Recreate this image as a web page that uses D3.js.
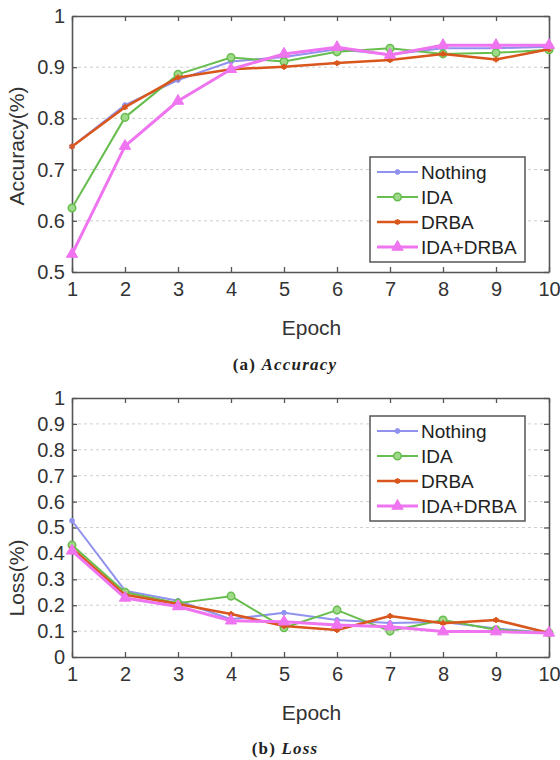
<!DOCTYPE html>
<html>
<head>
<meta charset="utf-8">
<script src="https://cdn.jsdelivr.net/npm/d3@7"></script>
<style>
  body { margin: 0; background: #fff; }
  svg { display: block; }
</style>
</head>
<body>
<svg id="chart" width="560" height="760"></svg>
<script>
// epochs + series
const epochs = [1, 2, 3, 4, 5, 6, 7, 8, 9, 10]
const seriesNames = ['Nothing', 'IDA', 'DRBA', 'IDA+DRBA']

const accNothing = [0.745, 0.826, 0.875, 0.911, 0.920, 0.935, 0.925, 0.937, 0.937, 0.940]
const accIDA     = [0.625, 0.802, 0.886, 0.919, 0.911, 0.930, 0.937, 0.926, 0.928, 0.934]
const accDRBA    = [0.745, 0.822, 0.880, 0.896, 0.901, 0.908, 0.914, 0.926, 0.915, 0.935]
const accBoth    = [0.535, 0.746, 0.834, 0.896, 0.926, 0.939, 0.924, 0.943, 0.943, 0.943]

const lossNothing = [0.526, 0.256, 0.217, 0.146, 0.171, 0.143, 0.131, 0.135, 0.110, 0.093]
const lossIDA     = [0.432, 0.250, 0.208, 0.235, 0.113, 0.181, 0.100, 0.143, 0.105, 0.093]
const lossDRBA    = [0.420, 0.240, 0.205, 0.166, 0.120, 0.104, 0.158, 0.130, 0.143, 0.093]
const lossBoth    = [0.410, 0.228, 0.195, 0.140, 0.136, 0.124, 0.117, 0.098, 0.098, 0.093]

const accTicks = [0.5, 0.6, 0.7, 0.8, 0.9, 1]
const lossTicks = [0, 0.1, 0.2, 0.3, 0.4, 0.5, 0.6, 0.7, 0.8, 0.9, 1]

const colors = ['#9191ee', '#67bd4e', '#d9561c', '#ef74ef']
const widths = [2, 2, 2.5, 3]

const svg = d3.select('#chart')

function drawPanel(opts){
    const left = 72, right = 549
    const {top, bottom, yDomain, yTicks, yLabel, yLabelY, series, legendTop, caption, captionY} = opts

    const x = d3.scaleLinear().domain([1, 10]).range([left, right])
    const y = d3.scaleLinear().domain(yDomain).range([bottom, top])

    const g = svg.append('g')

    // dashed grid
    g.selectAll('.grid')
        .data(yTicks.filter(t => t > yDomain[0] && t < yDomain[1]))
        .enter()
        .append('line')
        .attr('x1', left).attr('x2', right)
        .attr('y1', d => y(d)).attr('y2', d => y(d))
        .attr('stroke', '#cfcfcf')
        .attr('stroke-width', 1)
        .attr('stroke-dasharray', '3,3')

    const axisStyle = sel => {
        sel.select('.domain').attr('stroke', '#555').attr('stroke-width', 1.6)
        sel.selectAll('.tick line').attr('stroke', '#555').attr('stroke-width', 1.3)
        sel.selectAll('text').attr('fill', '#333').attr('font-size', 20)
            .attr('font-family', 'Liberation Sans, Arial, sans-serif')
    }

    g.append('g')
        .attr('transform', `translate(0, ${bottom})`)
        .call(d3.axisBottom(x).tickValues(epochs).tickSize(-5).tickSizeOuter(0).tickPadding(10).tickFormat(d3.format('d')))
        .call(axisStyle)
    g.append('g')
        .attr('transform', `translate(0, ${top})`)
        .call(d3.axisTop(x).tickValues(epochs).tickSize(-5).tickSizeOuter(0).tickFormat(''))
        .call(axisStyle)
    g.append('g')
        .attr('transform', `translate(${left}, 0)`)
        .call(d3.axisLeft(y).tickValues(yTicks).tickSize(-5).tickSizeOuter(0).tickPadding(7).tickFormat(d => d === 0 || d === 1 ? d3.format('d')(d) : d3.format('.1f')(d)))
        .call(axisStyle)
    g.append('g')
        .attr('transform', `translate(${right}, 0)`)
        .call(d3.axisRight(y).tickValues(yTicks).tickSize(-5).tickSizeOuter(0).tickFormat(''))
        .call(axisStyle)

    // lines + markers
    const line = d3.line().x((d, i) => x(epochs[i])).y(d => y(d))
    series.forEach((vals, k) => {
        g.append('path')
            .datum(vals)
            .attr('d', line)
            .attr('fill', 'none')
            .attr('stroke', colors[k])
            .attr('stroke-width', widths[k])
            .attr('stroke-linejoin', 'round')
        g.selectAll('.m' + k)
            .data(vals)
            .enter()
            .append('path')
            .attr('transform', (d, i) => `translate(${x(epochs[i])}, ${y(d)})`)
            .call(s => marker(s, k))
    })

    // legend
    const lx = 370, lw = 155, lh = 105
    const lg = g.append('g')
    lg.append('rect')
        .attr('x', lx).attr('y', legendTop)
        .attr('width', lw).attr('height', lh)
        .attr('fill', '#fff')
        .attr('stroke', '#555')
        .attr('stroke-width', 1.5)
    seriesNames.forEach((name, k) => {
        const ly = legendTop + 15 + k * 25
        lg.append('line')
            .attr('x1', lx + 7).attr('x2', lx + 48)
            .attr('y1', ly).attr('y2', ly)
            .attr('stroke', colors[k])
            .attr('stroke-width', widths[k])
        lg.append('path')
            .attr('transform', `translate(${lx + 27.5}, ${ly})`)
            .call(s => marker(s, k))
        lg.append('text')
            .attr('x', lx + 51).attr('y', ly)
            .attr('dy', '0.36em')
            .attr('font-size', 19)
            .attr('font-family', 'Liberation Sans, Arial, sans-serif')
            .attr('fill', '#222')
            .text(name)
    })

    // axis titles
    g.append('text')
        .attr('x', (left + right) / 2 + 1).attr('y', bottom + 63)
        .attr('text-anchor', 'middle')
        .attr('font-size', 21)
        .attr('font-family', 'Liberation Sans, Arial, sans-serif')
        .attr('fill', '#333')
        .text('Epoch')
    g.append('text')
        .attr('transform', `translate(24, ${yLabelY}) rotate(-90)`)
        .attr('text-anchor', 'middle')
        .attr('font-size', 21)
        .attr('font-family', 'Liberation Sans, Arial, sans-serif')
        .attr('fill', '#333')
        .text(yLabel)

    const cap = g.append('text')
        .attr('x', 285).attr('y', captionY)
        .attr('text-anchor', 'middle')
        .attr('font-size', 17)
        .attr('letter-spacing', 1.2)
        .attr('font-family', 'Liberation Serif, Times New Roman, serif')
        .attr('fill', '#222')
    cap.append('tspan').attr('font-weight', 'bold').text(caption[0] + ' ')
    cap.append('tspan').attr('font-style', 'italic').attr('font-weight', 'bold').text(caption[1])
}

function marker(sel, k){
    if(k === 0){
        sel.attr('d', d3.symbol(d3.symbolCircle, 18)())
            .attr('fill', colors[0]).attr('stroke', colors[0]).attr('stroke-width', 1)
    } else if(k === 1){
        sel.attr('d', d3.symbol(d3.symbolCircle, 45)())
            .attr('fill', '#9fd98a').attr('stroke', colors[1]).attr('stroke-width', 1.5)
    } else if(k === 2){
        sel.attr('d', d3.symbol(d3.symbolAsterisk, 24)())
            .attr('fill', 'none').attr('stroke', colors[2]).attr('stroke-width', 1.8)
    } else {
        sel.attr('d', d3.symbol(d3.symbolTriangle, 55)())
            .attr('fill', colors[3]).attr('stroke', colors[3]).attr('stroke-width', 1)
    }
}

drawPanel({
    top: 16, bottom: 272,
    yDomain: [0.5, 1], yTicks: accTicks,
    yLabel: 'Accuracy(%)', yLabelY: 146,
    series: [accNothing, accIDA, accDRBA, accBoth],
    legendTop: 157,
    caption: ['(a)', 'Accuracy'], captionY: 370
})

drawPanel({
    top: 398, bottom: 657,
    yDomain: [0, 1], yTicks: lossTicks,
    yLabel: 'Loss(%)', yLabelY: 578,
    series: [lossNothing, lossIDA, lossDRBA, lossBoth],
    legendTop: 416,
    caption: ['(b)', 'Loss'], captionY: 754
})
</script>
</body>
</html>
